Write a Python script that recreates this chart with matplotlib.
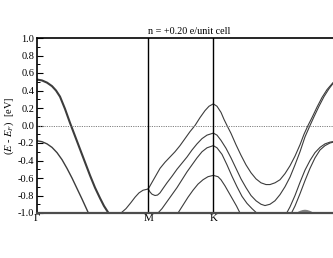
import matplotlib
matplotlib.use('Agg')
import matplotlib.pyplot as plt
import numpy as np

plt.rcParams['font.family'] = 'Liberation Serif'
plt.rcParams['mathtext.fontset'] = 'stix'
plt.rcParams['axes.unicode_minus'] = False

# high symmetry points along the k-path (G-M-K-G)
kpts = [0, 111.3, 176.3, 304.3]
klabels = ['\u0393', 'M', 'K', '\u0393']
yticks = [-1.0, -0.8, -0.6, -0.4, -0.2, 0.0, 0.2, 0.4, 0.6, 0.8, 1.0]
title = 'n = +0.20 e/unit cell'

# degenerate top band from Gamma (drawn thick)
kA = [0, 5, 10, 15, 19, 23, 28, 33, 38, 43, 48, 53, 58, 63, 67, 71.5, 75, 79]
eA = [.525, .515, .49, .45, .40, .33, .19, .03, -.12, -.27, -.42, -.57, -.71,
      -.83, -.92, -1.0, -1.06, -1.1]

# band starting at -0.18 at Gamma
kC = [0, 5, 10, 15, 20, 25, 30, 35, 40, 45, 49, 51, 54]
eC = [-.175, -.185, -.21, -.25, -.31, -.39, -.49, -.60, -.72, -.84, -.94, -.99, -1.06]

# band rising into M
kB = [75, 80, 84, 89, 94, 98, 102, 106, 111.3]
eB = [-1.08, -1.04, -1.0, -.95, -.88, -.82, -.77, -.74, -.725]

# upper band M -> K -> Gamma
kD = [111.3, 114, 118, 123, 128, 133, 138, 143, 148, 153, 158, 163, 168, 172, 176.3,
      180, 184, 187, 190, 194, 199, 204, 209, 214, 219, 224, 229, 233, 238, 243,
      248, 253, 258, 263, 267, 271, 275, 280, 285, 290, 296, 300, 304.3]
eD = [-.725, -.67, -.59, -.49, -.42, -.36, -.30, -.23, -.15, -.07, 0.0, .09, .17, .22, .247,
      .22, .15, .07, 0.0, -.09, -.22, -.34, -.45, -.54, -.61, -.655, -.675, -.675, -.655, -.62,
      -.55, -.46, -.35, -.22, -.10, 0.0, .09, .21, .32, .41, .49, .515, .525]

# band dipping after M, -0.09 at K
kE = [111.3, 113, 115, 118, 120.5, 123, 126, 130, 135, 140, 145, 150, 155, 160, 165, 170, 176.3,
      180, 184, 189, 194, 199, 204, 209, 214, 219, 224, 228, 233, 238, 243, 248, 253,
      258, 263, 268, 273, 277, 282, 287, 292, 296, 300, 304.3]
eE = [-.725, -.76, -.785, -.80, -.795, -.77, -.72, -.655, -.58, -.50, -.43, -.36, -.28, -.21,
      -.15, -.11, -.087,
      -.11, -.17, -.26, -.37, -.49, -.61, -.71, -.80, -.86, -.90, -.915, -.90, -.86, -.79,
      -.70, -.59, -.45, -.30, -.13, 0.0, .10, .22, .33, .42, .48, .51, .525]

# band with -0.23 at K
kF = [118, 121, 125, 130, 135, 140, 145, 150, 155, 160, 165, 170, 176.3,
      180, 185, 190, 195, 200, 205, 210, 215, 219.7, 223]
eF = [-1.05, -1.0, -.95, -.87, -.79, -.71, -.62, -.53, -.45, -.37, -.30, -.255, -.23,
      -.255, -.33, -.45, -.58, -.70, -.81, -.89, -.95, -1.0, -1.04]

# band with -0.57 at K
kG = [138, 141, 146, 151, 156, 161, 166, 171, 176.3, 181, 184, 188, 192, 196, 199.5, 203, 206]
eG = [-1.05, -1.0, -.91, -.82, -.74, -.67, -.62, -.585, -.57, -.585, -.62, -.69, -.77,
      -.85, -.92, -1.0, -1.06]

# two bands rising to -0.18 at Gamma
kH = [247, 249.7, 253, 258, 263, 268, 273, 278, 283, 288, 293, 298, 304.3]
eH = [-1.05, -1.0, -.93, -.80, -.65, -.51, -.40, -.31, -.25, -.21, -.19, -.18, -.175]
kI = [252, 254.5, 258, 263, 268, 273, 278, 283, 288, 293, 298, 304.3]
eI = [-1.05, -1.0, -.92, -.78, -.63, -.49, -.37, -.28, -.23, -.20, -.185, -.175]

# small pocket just above -1 eV
kJ = [262, 264, 266, 268, 270, 272, 274]
eJ = [-1.0, -.99, -.983, -.98, -.983, -.99, -1.0]

fig = plt.figure(figsize=(3.33, 2.58), dpi=100)
ax = fig.add_axes([37 / 333, 45 / 258, 304.3 / 333, 175 / 258])

line_col = '#3c3c3c'
ax.plot(kA, eA, color=line_col, lw=1.5)
ax.plot(kC, eC, color=line_col, lw=1.0)
for k, e in [(kB, eB), (kD, eD), (kE, eE), (kF, eF), (kG, eG), (kH, eH), (kI, eI)]:
    ax.plot(k, e, color=line_col, lw=0.8)
ax.plot(kJ, eJ, color='0.5', lw=2.2, solid_capstyle='round')

ax.axhline(0, color='0.5', ls=(0, (1.2, 1.2)), lw=0.7)
for kp in kpts[1:3]:
    ax.axvline(kp, color='black', lw=1.0)

ax.set_xlim(kpts[0], kpts[-1])
ax.set_ylim(-1, 1)
ax.set_xticks(kpts, klabels, fontsize=8)
ax.tick_params(axis='x', length=0, pad=1)
# the closing Gamma lies past the right edge of the picture
ax.get_xticklabels()[-1].set_visible(False)
ax.set_yticks(yticks, ['%.1f' % v for v in yticks], fontsize=7.5)
ax.set_yticks(np.round(np.arange(-0.9, 1.0, 0.2), 1), minor=True)
ax.tick_params(axis='y', which='major', direction='in', length=4, width=0.8, pad=2)
ax.tick_params(axis='y', which='minor', direction='in', length=2, width=0.7)
ax.set_ylabel(r'($E$ - $E_F$)  [eV]', fontsize=7.5, labelpad=1.5)
ax.set_title(title, fontsize=7.3, pad=3)

for s in ['top', 'left', 'right']:
    ax.spines[s].set_linewidth(1.2)
ax.spines['bottom'].set_linewidth(1.6)
ax.spines['bottom'].set_color('0.3')

fig.savefig('out.png', dpi=100)
